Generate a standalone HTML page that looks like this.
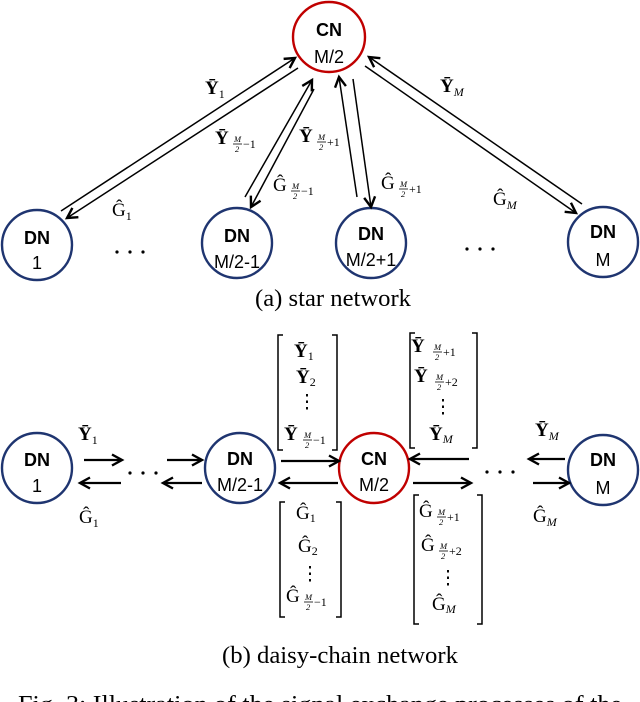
<!DOCTYPE html>
<html><head><meta charset="utf-8"><style>
html,body{margin:0;padding:0;background:#fff;}
svg{display:block;}
.dn{font-family:"Liberation Sans",sans-serif;font-size:18px;fill:#000;text-anchor:middle;}
.b{font-weight:bold;}
.m{font-family:"Liberation Serif",serif;font-size:19px;fill:#000;}
.s{font-family:"Liberation Serif",serif;font-size:12px;fill:#000;}
.f{font-family:"Liberation Serif",serif;font-size:8.5px;font-style:italic;fill:#000;}
.cap{font-family:"Liberation Serif",serif;font-size:24px;fill:#000;}
</style></head><body>
<svg width="640" height="702" viewBox="0 0 640 702" xmlns="http://www.w3.org/2000/svg">
<defs>
<marker id="a" markerWidth="14" markerHeight="14" refX="11" refY="7" orient="auto" markerUnits="userSpaceOnUse">
<path d="M1,1.5 L11,7 L1,12.5" fill="none" stroke="#000" stroke-width="2.4"/>
</marker>
</defs>
<g fill="none" stroke-width="2.4">
<ellipse cx="329" cy="37" rx="36" ry="35" stroke="#c00000"/>
<ellipse cx="37" cy="245" rx="35" ry="35" stroke="#1f3570"/>
<ellipse cx="237" cy="243" rx="35" ry="35" stroke="#1f3570"/>
<ellipse cx="371" cy="243" rx="35" ry="35" stroke="#1f3570"/>
<ellipse cx="603" cy="242" rx="35" ry="35" stroke="#1f3570"/>
</g>
<text class="dn b" x="329" y="36">CN</text><text class="dn" x="329" y="63">M/2</text>
<text class="dn b" x="37" y="244">DN</text><text class="dn" x="37" y="269">1</text>
<text class="dn b" x="237" y="242">DN</text><text class="dn" x="237" y="268">M/2-1</text>
<text class="dn b" x="371" y="240">DN</text><text class="dn" x="371" y="266">M/2+1</text>
<text class="dn b" x="603" y="238">DN</text><text class="dn" x="603" y="266">M</text>
<g fill="#000">
<circle cx="117" cy="252" r="1.6"/><circle cx="130" cy="252" r="1.6"/><circle cx="143" cy="252" r="1.6"/>
<circle cx="467" cy="249" r="1.6"/><circle cx="480" cy="249" r="1.6"/><circle cx="493" cy="249" r="1.6"/>
</g>
<g stroke="#000" stroke-width="1.5" fill="none">
<line x1="61" y1="211" x2="295" y2="58" marker-end="url(#a)"/>
<line x1="298" y1="68" x2="67" y2="218" marker-end="url(#a)"/>
<line x1="245" y1="197" x2="312" y2="80" marker-end="url(#a)"/>
<line x1="314" y1="89" x2="251" y2="207" marker-end="url(#a)"/>
<line x1="357" y1="197" x2="339" y2="77" marker-end="url(#a)"/>
<line x1="353" y1="79" x2="371" y2="207" marker-end="url(#a)"/>
<line x1="582" y1="204" x2="369" y2="57" marker-end="url(#a)"/>
<line x1="365" y1="66" x2="576" y2="213" marker-end="url(#a)"/>
</g>
<!-- star labels -->
<text class="m" x="205" y="94"><tspan font-weight="bold">Ȳ</tspan><tspan class="s" dy="4">1</tspan></text>
<text class="m" x="112" y="216">Ĝ<tspan class="s" dy="4">1</tspan></text>
<text class="m" x="440" y="92"><tspan font-weight="bold">Ȳ</tspan><tspan class="s" dy="4" font-style="italic">M</tspan></text>
<text class="m" x="493" y="205">Ĝ<tspan class="s" dy="4" font-style="italic">M</tspan></text>
<g>
<text class="m" x="215" y="144" font-weight="bold">Ȳ</text>
<text class="f" x="234" y="142">M</text><line x1="233" y1="144" x2="242" y2="144" stroke="#000" stroke-width="0.8"/><text class="f" x="235" y="152">2</text><text class="s" x="243" y="148">−1</text>
<text class="m" x="299" y="142" font-weight="bold">Ȳ</text>
<text class="f" x="318" y="140">M</text><line x1="317" y1="142" x2="326" y2="142" stroke="#000" stroke-width="0.8"/><text class="f" x="319" y="150">2</text><text class="s" x="327" y="146">+1</text>
<text class="m" x="273" y="191">Ĝ</text>
<text class="f" x="292" y="189">M</text><line x1="291" y1="191" x2="300" y2="191" stroke="#000" stroke-width="0.8"/><text class="f" x="293" y="199">2</text><text class="s" x="301" y="195">−1</text>
<text class="m" x="381" y="189">Ĝ</text>
<text class="f" x="400" y="187">M</text><line x1="399" y1="189" x2="408" y2="189" stroke="#000" stroke-width="0.8"/><text class="f" x="401" y="197">2</text><text class="s" x="409" y="193">+1</text>
</g>
<text class="cap" x="255" y="306" textLength="156" lengthAdjust="spacingAndGlyphs">(a) star network</text>

<!-- daisy chain -->
<g fill="none" stroke-width="2.4">
<ellipse cx="37" cy="468" rx="35" ry="35" stroke="#1f3570"/>
<ellipse cx="240" cy="468" rx="35" ry="35" stroke="#1f3570"/>
<ellipse cx="374" cy="468" rx="35" ry="35" stroke="#c00000"/>
<ellipse cx="603" cy="470" rx="35" ry="35" stroke="#1f3570"/>
</g>
<text class="dn b" x="37" y="466">DN</text><text class="dn" x="37" y="492">1</text>
<text class="dn b" x="240" y="465">DN</text><text class="dn" x="240" y="491">M/2-1</text>
<text class="dn b" x="374" y="465">CN</text><text class="dn" x="374" y="491">M/2</text>
<text class="dn b" x="603" y="466">DN</text><text class="dn" x="603" y="494">M</text>
<g fill="#000">
<circle cx="130" cy="473" r="1.6"/><circle cx="143" cy="473" r="1.6"/><circle cx="156" cy="473" r="1.6"/>
<circle cx="487" cy="472" r="1.6"/><circle cx="500" cy="472" r="1.6"/><circle cx="513" cy="472" r="1.6"/>
</g>
<g stroke="#000" stroke-width="2.2" fill="none">
<line x1="84" y1="460" x2="122" y2="460" marker-end="url(#a)"/>
<line x1="167" y1="460" x2="202" y2="460" marker-end="url(#a)"/>
<line x1="281" y1="461" x2="339" y2="461" marker-end="url(#a)"/>
<line x1="469" y1="459" x2="410" y2="459" marker-end="url(#a)"/>
<line x1="565" y1="459" x2="529" y2="459" marker-end="url(#a)"/>
<line x1="121" y1="483" x2="80" y2="483" marker-end="url(#a)"/>
<line x1="202" y1="483" x2="163" y2="483" marker-end="url(#a)"/>
<line x1="338" y1="483" x2="280" y2="483" marker-end="url(#a)"/>
<line x1="413" y1="483" x2="471" y2="483" marker-end="url(#a)"/>
<line x1="533" y1="483" x2="569" y2="483" marker-end="url(#a)"/>
</g>
<text class="m" x="78" y="440"><tspan font-weight="bold">Ȳ</tspan><tspan class="s" dy="4">1</tspan></text>
<text class="m" x="79" y="523">Ĝ<tspan class="s" dy="4">1</tspan></text>
<text class="m" x="535" y="436"><tspan font-weight="bold">Ȳ</tspan><tspan class="s" dy="4" font-style="italic">M</tspan></text>
<text class="m" x="533" y="522">Ĝ<tspan class="s" dy="4" font-style="italic">M</tspan></text>
<!-- brackets -->
<g stroke="#000" stroke-width="1.5" fill="none">
<path d="M283,335 H278 V450 H283"/><path d="M332,335 H337 V450 H332"/>
<path d="M415,333 H410 V448 H415"/><path d="M472,333 H477 V448 H472"/>
<path d="M285,502 H280 V617 H285"/><path d="M336,502 H341 V617 H336"/>
<path d="M419,495 H414 V624 H419"/><path d="M477,495 H482 V624 H477"/>
</g>
<text class="m" x="294" y="357"><tspan font-weight="bold">Ȳ</tspan><tspan class="s" dy="3">1</tspan></text>
<text class="m" x="296" y="383"><tspan font-weight="bold">Ȳ</tspan><tspan class="s" dy="3">2</tspan></text>
<text class="m" x="307" y="408" text-anchor="middle" font-size="13">⋮</text>
<text class="m" x="284" y="440" font-weight="bold">Ȳ</text>
<text class="f" x="304" y="438">M</text><line x1="303" y1="440" x2="312" y2="440" stroke="#000" stroke-width="0.8"/><text class="f" x="305" y="448">2</text><text class="s" x="313" y="444">−1</text>

<text class="m" x="411" y="352" font-weight="bold">Ȳ</text>
<text class="f" x="434" y="350">M</text><line x1="433" y1="352" x2="442" y2="352" stroke="#000" stroke-width="0.8"/><text class="f" x="435" y="360">2</text><text class="s" x="443" y="356">+1</text>
<text class="m" x="414" y="382" font-weight="bold">Ȳ</text>
<text class="f" x="436" y="380">M</text><line x1="435" y1="382" x2="444" y2="382" stroke="#000" stroke-width="0.8"/><text class="f" x="437" y="390">2</text><text class="s" x="445" y="386">+2</text>
<text class="m" x="443" y="413" text-anchor="middle" font-size="13">⋮</text>
<text class="m" x="429" y="440"><tspan font-weight="bold">Ȳ</tspan><tspan class="s" dy="3" font-style="italic">M</tspan></text>

<text class="m" x="296" y="519">Ĝ<tspan class="s" dy="3">1</tspan></text>
<text class="m" x="298" y="552">Ĝ<tspan class="s" dy="3">2</tspan></text>
<text class="m" x="310" y="580" text-anchor="middle" font-size="13">⋮</text>
<text class="m" x="286" y="602">Ĝ</text>
<text class="f" x="305" y="600">M</text><line x1="304" y1="602" x2="313" y2="602" stroke="#000" stroke-width="0.8"/><text class="f" x="306" y="610">2</text><text class="s" x="314" y="606">−1</text>

<text class="m" x="419" y="517">Ĝ</text>
<text class="f" x="438" y="515">M</text><line x1="437" y1="517" x2="446" y2="517" stroke="#000" stroke-width="0.8"/><text class="f" x="439" y="525">2</text><text class="s" x="447" y="521">+1</text>
<text class="m" x="421" y="551">Ĝ</text>
<text class="f" x="440" y="549">M</text><line x1="439" y1="551" x2="448" y2="551" stroke="#000" stroke-width="0.8"/><text class="f" x="441" y="559">2</text><text class="s" x="449" y="555">+2</text>
<text class="m" x="448" y="584" text-anchor="middle" font-size="13">⋮</text>
<text class="m" x="432" y="610">Ĝ<tspan class="s" dy="3" font-style="italic">M</tspan></text>

<text class="cap" x="222" y="663" textLength="236" lengthAdjust="spacingAndGlyphs">(b) daisy-chain network</text>
<text class="cap" x="18" y="712" textLength="604" lengthAdjust="spacingAndGlyphs">Fig. 3: Illustration of the signal exchange processes of the</text>
</svg>
</body></html>
